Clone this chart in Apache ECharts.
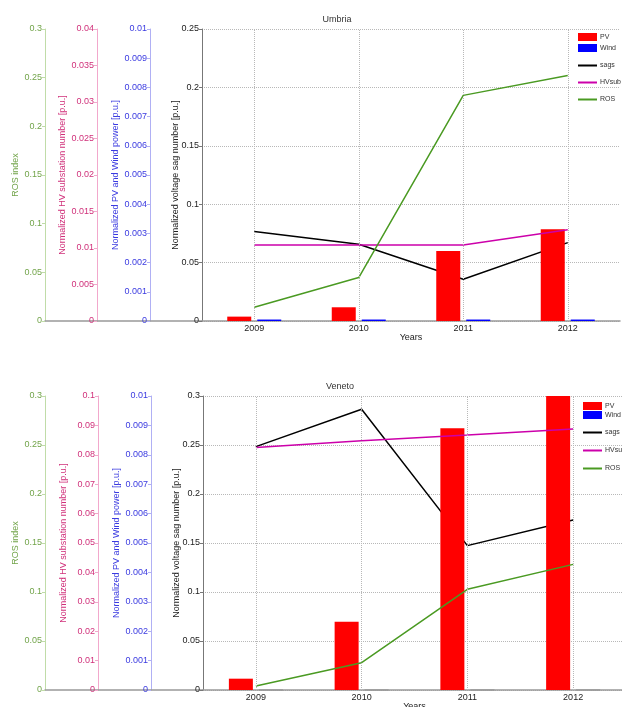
<!DOCTYPE html>
<html>
<head>
<meta charset="utf-8">
<script src="https://cdn.jsdelivr.net/npm/echarts@6/dist/echarts.min.js"></script>
<style>html,body{margin:0;padding:0;background:#fff;}#c{width:622px;height:707px;}</style>
</head>
<body>
<div id="c"></div>
<script>
// ---- data ----
const years = ['2009', '2010', '2011', '2012'];

const umbriaPV   = [0.00015, 0.00047, 0.0024, 0.00314];
const umbriaWind = [0.00005, 0.00005, 0.00005, 0.00005];
const umbriaSags = [0.0766, 0.0657, 0.0357, 0.0671];
const umbriaHV   = [0.0104, 0.0104, 0.0104, 0.0125];
const umbriaROS  = [0.0141, 0.0446, 0.2318, 0.2523];

const venetoPV   = [0.000385, 0.00232, 0.0089, 0.0105];
const venetoWind = [0, 0, 0, 0];
const venetoSags = [0.2483, 0.2864, 0.1473, 0.1735];
const venetoHV   = [0.0825, 0.0848, 0.0867, 0.0888];
const venetoROS  = [0.0041, 0.0279, 0.1027, 0.1282];

// axis ranges [max, interval]
const umbriaSagAxis = [0.25, 0.05];
const umbriaPVAxis  = [0.01, 0.001];
const umbriaHVAxis  = [0.04, 0.005];
const umbriaROSAxis = [0.3, 0.05];
const venetoSagAxis = [0.3, 0.05];
const venetoPVAxis  = [0.01, 0.001];
const venetoHVAxis  = [0.1, 0.01];
const venetoROSAxis = [0.3, 0.05];

// ---- styles ----
const FF = 'Liberation Sans, Arial, sans-serif';
const C = {
  sagLbl: '#222', sagLine: '#777',
  pvLbl: '#3a3ae0', pvLine: '#b0b0f4',
  hvLbl: '#d0307a', hvLine: '#f2a8cc',
  rosLbl: '#72a44a', rosLine: '#c0dca8',
  pv: '#ff0000', wind: '#0000ff', sags: '#000000', hv: '#cc00aa', ros: '#4a9a22'
};

function yAx(gridIndex, rng, offset, lbl, line, name, nameGap, split) {
  return {
    type: 'value', gridIndex: gridIndex, min: 0, max: rng[0], interval: rng[1],
    position: 'left', offset: offset,
    name: name, nameLocation: 'middle', nameGap: nameGap, nameMoveOverlap: false,
    nameTextStyle: { color: lbl, fontSize: 9, fontFamily: FF },
    axisLine: { show: true, lineStyle: { color: line, width: 1 } },
    axisTick: { show: true, length: 3, lineStyle: { color: line } },
    axisLabel: { color: lbl, fontSize: 9, margin: 3, fontFamily: FF },
    splitLine: { show: split, lineStyle: { type: 'dotted', color: '#b8b8b8' } }
  };
}

function xAx(gridIndex) {
  return {
    type: 'category', gridIndex: gridIndex, data: years, boundaryGap: true,
    name: 'Years', nameLocation: 'middle', nameGap: 12, nameMoveOverlap: false,
    nameTextStyle: { color: '#222', fontSize: 9, fontFamily: FF },
    axisLine: { show: true, lineStyle: { color: '#999', width: 1.5 } },
    axisTick: { show: false },
    axisLabel: { color: '#222', fontSize: 9, margin: 3, fontFamily: FF },
    splitLine: { show: false }
  };
}

function extX(gridIndex) {
  return { type: 'value', gridIndex: gridIndex, min: 0, max: 1, position: 'bottom', show: true,
           axisLine: { show: true, onZero: false, lineStyle: { color: '#999', width: 1.5 } },
           axisTick: { show: false }, axisLabel: { show: false }, splitLine: { show: false } };
}
function extY(gridIndex) {
  return { type: 'value', gridIndex: gridIndex, min: 0, max: 1, show: false, splitLine: { show: false } };
}

function vGrid() {
  return {
    silent: true, symbol: 'none', label: { show: false }, animation: false,
    lineStyle: { type: 'dotted', color: '#b8b8b8', width: 1 },
    data: years.map(function (y) { return { xAxis: y }; })
  };
}

function panelSeries(xi, yBase, pv, wind, sags, hv, ros, windStyle) {
  return [
    { name: 'sags', type: 'line', xAxisIndex: xi, yAxisIndex: yBase, data: sags, z: 1,
      showSymbol: false, symbol: 'none', lineStyle: { color: C.sags, width: 1.5 }, itemStyle: { color: C.sags },
      markLine: vGrid() },
    { name: 'PV', type: 'bar', xAxisIndex: xi, yAxisIndex: yBase + 1, data: pv, z: 2,
      barWidth: 24, barGap: '25%', itemStyle: { color: C.pv } },
    { name: 'Wind', type: 'bar', xAxisIndex: xi, yAxisIndex: yBase + 1, data: wind, z: 2,
      barWidth: 24, barGap: '25%', itemStyle: windStyle },
    { name: 'HVsub', type: 'line', xAxisIndex: xi, yAxisIndex: yBase + 2, data: hv, z: 3,
      showSymbol: false, symbol: 'none', lineStyle: { color: C.hv, width: 1.5 }, itemStyle: { color: C.hv } },
    { name: 'ROS', type: 'line', xAxisIndex: xi, yAxisIndex: yBase + 3, data: ros, z: 3,
      showSymbol: false, symbol: 'none', lineStyle: { color: C.ros, width: 1.5 }, itemStyle: { color: C.ros } }
  ];
}

function extSeries(xi, yi) {
  return { name: '_ext' + xi, type: 'line', xAxisIndex: xi, yAxisIndex: yi, data: [], silent: true, showSymbol: false };
}

function legends(left, top1, gap1, top2, gap2) {
  const ts = { fontSize: 7, color: '#333', fontFamily: FF, padding: [0, 0, 0, -2] };
  return [
    { left: left, top: top1, padding: 0, orient: 'vertical', itemWidth: 19, itemHeight: 8, itemGap: gap1, icon: 'rect',
      textStyle: ts, selectedMode: false,
      data: [{ name: 'PV', itemStyle: { color: C.pv, borderWidth: 0 } }, { name: 'Wind', itemStyle: { color: C.wind, borderWidth: 0 } }] },
    { left: left, top: top2, padding: 0, orient: 'vertical', itemWidth: 19, itemHeight: 2, itemGap: gap2, icon: 'rect',
      textStyle: ts, selectedMode: false,
      data: [{ name: 'sags', itemStyle: { color: C.sags } }, { name: 'HVsub', itemStyle: { color: C.hv } }, { name: 'ROS', itemStyle: { color: C.ros } }] }
  ];
}

const option = {
  animation: false,
  backgroundColor: '#fff',
  textStyle: { fontFamily: FF },
  title: [
    { text: 'Umbria', left: 332, top: 10, textAlign: 'center', textStyle: { fontSize: 9, fontWeight: 'normal', color: '#333', fontFamily: FF } },
    { text: 'Veneto', left: 335, top: 377, textAlign: 'center', textStyle: { fontSize: 9, fontWeight: 'normal', color: '#333', fontFamily: FF } }
  ],
  grid: [
    { left: 202, top: 29, width: 418, height: 292, outerBoundsMode: 'none', containLabel: false },
    { left: 203, top: 396, width: 423, height: 294, outerBoundsMode: 'none', containLabel: false },
    { left: 45, top: 29, width: 157, height: 292, outerBoundsMode: 'none', containLabel: false },
    { left: 45, top: 396, width: 158, height: 294, outerBoundsMode: 'none', containLabel: false }
  ],
  xAxis: [xAx(0), xAx(1), extX(2), extX(3)],
  yAxis: [
    yAx(0, umbriaSagAxis, 0, C.sagLbl, C.sagLine, 'Normalized voltage sag number [p.u.]', 22, true),
    yAx(0, umbriaPVAxis, 52, C.pvLbl, C.pvLine, 'Normalized PV and Wind power [p.u.]', 30, false),
    yAx(0, umbriaHVAxis, 105, C.hvLbl, C.hvLine, 'Normalized HV substation number [p.u.]', 30, false),
    yAx(0, umbriaROSAxis, 157, C.rosLbl, C.rosLine, 'ROS index', 25, false),
    yAx(1, venetoSagAxis, 0, C.sagLbl, C.sagLine, 'Normalized voltage sag number [p.u.]', 22, true),
    yAx(1, venetoPVAxis, 52, C.pvLbl, C.pvLine, 'Normalized PV and Wind power [p.u.]', 30, false),
    yAx(1, venetoHVAxis, 105, C.hvLbl, C.hvLine, 'Normalized HV substation number [p.u.]', 30, false),
    yAx(1, venetoROSAxis, 158, C.rosLbl, C.rosLine, 'ROS index', 25, false),
    extY(2), extY(3)
  ],
  legend: legends(578, 33, 3, 62, 10).concat(legends(583, 402, 1, 429, 11)),
  series: panelSeries(0, 0, umbriaPV, umbriaWind, umbriaSags, umbriaHV, umbriaROS, { color: C.wind })
    .concat(panelSeries(1, 4, venetoPV, venetoWind, venetoSags, venetoHV, venetoROS, { color: C.wind, borderColor: '#9a9a9a', borderWidth: 1 }))
    .concat([extSeries(2, 8), extSeries(3, 9)])
};

const chart = echarts.init(document.getElementById('c'), null, { renderer: 'canvas' });
chart.setOption(option);
</script>
</body>
</html>
